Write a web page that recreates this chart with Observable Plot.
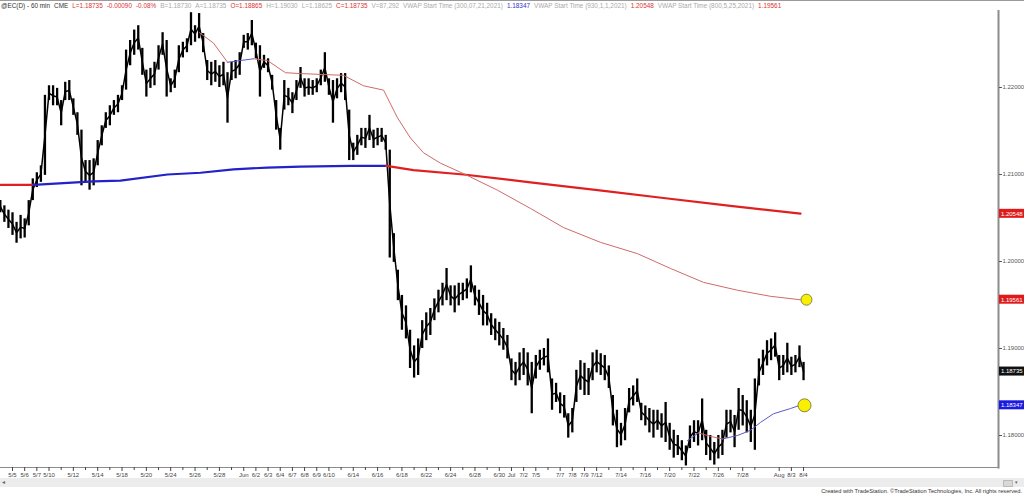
<!DOCTYPE html>
<html><head><meta charset="utf-8">
<script src="https://cdn.jsdelivr.net/npm/d3@7"></script>
<script src="https://cdn.jsdelivr.net/npm/@observablehq/plot@0.6"></script>
<style>
body{margin:0;background:#fff;font-family:"Liberation Sans",Arial,sans-serif;}
#wrap{position:relative;width:1024px;height:495px;overflow:hidden;background:#fff;}
#hdr{position:absolute;left:0;top:0;width:1024px;height:9px;border-top:1px solid #9a9a9a;font-size:6.4px;line-height:9px;white-space:nowrap;padding-left:1px;}
#hdr span{margin-right:4px}
#chart{position:absolute;left:0;top:10px;}
#band{position:absolute;left:0;top:478px;width:1024px;height:9px;background:#ececec;}
#band .l{position:absolute;left:2px;top:0;font-size:6px;line-height:9px;color:#666;}
#band .btn{position:absolute;left:1003px;top:2px;width:8px;height:5px;background:#d8d8d8;border:1px solid #bbb;}
#band .r{position:absolute;left:1015px;top:0;font-size:5px;line-height:9px;color:#666;}
#foot{position:absolute;right:2px;top:487px;font-size:5.7px;line-height:8px;color:#333;white-space:nowrap;}
</style></head><body>
<div id="wrap">
  <div id="hdr"></div>
  <div id="chart"></div>
  <div id="band"><span class="l">&#9666;</span><span class="btn"></span><span class="r">&#9662;</span></div>
  <div id="foot">Created with TradeStation. &copy;TradeStation Technologies, Inc. All rights reserved.</div>
</div>
<script>
// ---------- DATA ----------
// 8-hour bars, positions in trading days after the 5/5 session start
const barStartDay = -1;
const barStepDay = 1 / 3;
const barHigh = [
1.2070,1.2064,1.2059,1.2056,1.2045,1.2053,1.2049,1.2070,1.2095,1.2102,
1.2110,1.2191,1.2202,1.2202,1.2199,1.2185,1.2206,1.2208,1.2187,1.2171,
1.2151,1.2116,1.2116,1.2118,1.2139,1.2156,1.2171,1.2179,1.2185,1.2191,
1.2202,1.2243,1.2254,1.2266,1.2271,1.2245,1.2220,1.2222,1.2229,1.2248,
1.2263,1.2254,1.2210,1.2220,1.2248,1.2252,1.2256,1.2286,1.2271,1.2285,
1.2262,1.2231,1.2229,1.2231,1.2225,1.2229,1.2217,1.2229,1.2231,1.2240,
1.2260,1.2262,1.2277,1.2251,1.2248,1.2237,
1.2233,1.2214,1.2185,
1.2153,1.2208,1.2199,1.2194,1.2208,1.2223,1.2210,1.2210,1.2208,1.2210,
1.2220,1.2240,1.2210,1.2208,1.2210,1.2216,1.2216,1.2174,1.2136,1.2145,
1.2153,1.2153,1.2168,1.2151,1.2153,1.2153,1.2145,1.2128,1.2032,1.1990,
1.1961,1.1949,1.1921,1.1903,1.1911,1.1932,1.1941,1.1946,1.1957,1.1967,
1.1975,1.1992,1.1972,1.1972,1.1975,1.1975,1.1980,1.1995,1.1972,1.1967,
1.1961,1.1952,1.1940,1.1934,1.1930,1.1923,1.1915,1.1888,1.1884,1.1895,
1.1900,1.1895,1.1884,1.1892,1.1898,
1.1900,1.1911,1.1865,1.1860,
1.1849,1.1846,1.1825,1.1831,1.1875,1.1886,1.1883,1.1877,1.1895,1.1898,
1.1894,1.1892,1.1880,1.1846,1.1829,1.1814,1.1831,1.1854,1.1857,1.1865,
1.1837,1.1834,1.1831,1.1829,1.1829,1.1825,1.1838,1.1814,1.1806,1.1800,
1.1794,1.1788,1.1811,1.1817,1.1817,1.1842,1.1806,1.1800,1.1792,1.1800,
1.1806,1.1829,1.1829,1.1823,1.1854,1.1846,1.1840,1.1829,1.1865,1.1888,
1.1898,1.1909,1.1911,1.1918,1.1892,1.1892,1.1906,1.1890,1.1892,1.1903,
1.1884];
const barLow = [
1.2056,1.2045,1.2038,1.2030,1.2021,1.2026,1.2027,1.2041,1.2070,1.2085,
1.2091,1.2099,1.2185,1.2179,1.2179,1.2156,1.2185,1.2185,1.2168,1.2145,
1.2087,1.2091,1.2082,1.2087,1.2110,1.2133,1.2153,1.2156,1.2168,1.2171,
1.2185,1.2197,1.2225,1.2237,1.2243,1.2214,1.2189,1.2199,1.2202,1.2220,
1.2237,1.2189,1.2194,1.2199,1.2217,1.2234,1.2240,1.2248,1.2252,1.2256,
1.2240,1.2208,1.2202,1.2206,1.2200,1.2202,1.2159,1.2208,1.2210,1.2214,
1.2245,1.2243,1.2248,1.2233,1.2189,1.2222,
1.2217,1.2197,1.2151,
1.2128,1.2174,1.2179,1.2170,1.2185,1.2199,1.2189,1.2191,1.2191,1.2194,
1.2202,1.2206,1.2191,1.2159,1.2187,1.2194,1.2185,1.2116,1.2116,1.2122,
1.2133,1.2130,1.2139,1.2130,1.2133,1.2137,1.2128,1.2004,1.1999,1.1955,
1.1921,1.1911,1.1877,1.1866,1.1869,1.1900,1.1909,1.1915,1.1932,1.1941,
1.1949,1.1955,1.1949,1.1941,1.1949,1.1955,1.1957,1.1964,1.1949,1.1938,
1.1926,1.1926,1.1915,1.1909,1.1903,1.1898,1.1888,1.1863,1.1857,1.1863,
1.1869,1.1857,1.1825,1.1865,1.1875,
1.1880,1.1872,1.1829,1.1838,
1.1825,1.1820,1.1797,1.1803,1.1838,1.1852,1.1846,1.1846,1.1863,1.1872,
1.1869,1.1863,1.1854,1.1811,1.1786,1.1788,1.1794,1.1826,1.1834,1.1838,
1.1817,1.1811,1.1803,1.1797,1.1806,1.1797,1.1792,1.1783,1.1774,1.1777,
1.1771,1.1765,1.1785,1.1792,1.1788,1.1794,1.1777,1.1771,1.1766,1.1773,
1.1777,1.1797,1.1803,1.1786,1.1806,1.1811,1.1803,1.1792,1.1783,1.1857,
1.1869,1.1880,1.1886,1.1890,1.1863,1.1869,1.1872,1.1869,1.1872,1.1878,
1.1863];

// VWAP since 1/1/2021 (thick)
const vwapYearDay   = [-0.99,1.73,6.66,8.87,12.74,15.45,18.16,20.95,23.66,27.77,30.73,32.95,37.06,42.56,48.07,53.49,59.0,64.75];
const vwapYearPrice = [1.2088,1.2088,1.2092,1.2093,1.2100,1.2102,1.2106,1.2108,1.2109,1.2110,1.2110,1.2105,1.2100,1.2091,1.2082,1.2073,1.2064,1.2055];
// VWAP since 5/25/2021 (thin)
const vwapMayDay   = [15.37,16.52,17.67,18.73,19.80,20.95,22.43,23.66,27.20,28.84,30.49,31.64,32.70,33.77,35.17,37.06,39.85,42.56,45.28,48.32,51.36,54.07,56.78,59.57,62.28,64.75];
const vwapMayPrice = [1.2263,1.2251,1.2229,1.2231,1.2233,1.2231,1.2217,1.2216,1.2214,1.2202,1.2197,1.2165,1.2142,1.2125,1.2113,1.2101,1.2082,1.2061,1.2039,1.2022,1.2009,1.1992,1.1976,1.1967,1.1960,1.1956];
// VWAP since 7/21/2021 (thin)
const vwapJulDay   = [55.46,56.37,57.35,58.34,59.57,60.64,61.46,62.53,63.93,64.75];
const vwapJulPrice = [1.1794,1.1803,1.1799,1.1796,1.1800,1.1806,1.1815,1.1825,1.1831,1.1835];

// axis
const priceTicks = [1.18,1.19,1.20,1.21,1.22];
const tickDays = [0,1,2,3,5,7,9,11,13,15,17,19,20,21,22,23,24,25,26,28,30,32,34,36,38,40,41,42,43,45,46,47,48,50,52,54,56,58,60,63,64,65];
const tickLabels = ["5/5","5/6","5/7","5/10","5/12","5/14","5/18","5/20","5/24","5/26","5/28","Jun","6/2","6/3","6/4","6/7","6/8","6/9","6/10","6/14","6/16","6/18","6/22","6/24","6/28","6/30","Jul","7/2","7/5","7/7","7/8","7/9","7/12","7/14","7/16","7/20","7/22","7/26","7/28","Aug","8/3","8/4"];
const minorTickDays = [4,6,8,10,12,14,16,18,27,29,31,33,35,37,39,44,49,51,53,55,57,59,61];

// last values (price tags)
const tagNames  = ["VWAP 930,1,1,2021","VWAP 800,5,25,2021","Last","VWAP 300,07,21,2021"];
const tagValues = [1.20548,1.19561,1.18735,1.18347];
// highlighted targets (yellow circles)
const targetValues = [1.19561,1.18347];
const targetDays = [65.24,65.08];

// header
const headerItems = [
  ["@EC(D) - 60 min","#333"],["CME","#333"],["L=1.18735","#d33"],["-0.00090","#d33"],["-0.08%","#d33"],
  ["B=1.18730","#aaa"],["A=1.18735","#aaa"],["O=1.18865","#d33"],["H=1.19030","#aaa"],["L=1.18625","#aaa"],
  ["C=1.18735","#d33"],["V=87,292","#aaa"],["VWAP Start Time (300,07,21,2021)","#aaa"],["1.18347","#3333cc"],
  ["VWAP Start Time (930,1,1,2021)","#aaa"],["1.20548","#d33"],["VWAP Start Time (800,5,25,2021)","#aaa"],["1.19561","#d33"]
];

// ---------- BUILD ----------
const hdr = document.getElementById("hdr");
for (const [t, c] of headerItems) {
  const s = document.createElement("span");
  s.textContent = t; s.style.color = c; hdr.appendChild(s);
}

const bars = barHigh.map((h, i) => ({t: barStartDay + i * barStepDay, hi: h, lo: barLow[i], mid: (h + barLow[i]) / 2}));

function segs(days, prices, breaks, colors, name) {
  const out = [];
  let start = 0;
  const bounds = [...breaks, days.length - 1];
  for (let b = 0; b < bounds.length; b++) {
    for (let i = start; i <= bounds[b]; i++) out.push({t: days[i], p: prices[i], z: name + b, c: colors[b]});
    start = bounds[b];
  }
  return out;
}
const RED = "#e02020", BLUE = "#2222c8", THINRED = "#d06a6a", THINBLUE = "#5a5ac8";
const yearLine = segs(vwapYearDay, vwapYearPrice, [1, 10], [RED, BLUE, RED], "y");
const mayLine  = segs(vwapMayDay, vwapMayPrice, [2, 4], [THINRED, THINBLUE, THINRED], "m");
const julLine  = segs(vwapJulDay, vwapJulPrice, [1, 3], [THINBLUE, THINRED, THINBLUE], "j");

const xRight = 81.02, xTag = 83.2;
const tagColors = ["#e01a1a","#e01a1a","#111","#1a1ae0"];
const tags = tagValues.map((v, i) => ({name: tagNames[i], v, c: tagColors[i]}));
const labelOf = new Map(tickDays.map((d, i) => [d, tickLabels[i]]));

const pxPerPrice = 8700;
const chart = Plot.plot({
  width: 1024, height: 468,
  marginTop: 0, marginBottom: 11, marginLeft: 0, marginRight: 26,
  x: {domain: [-0.986, xRight], axis: null, label: null},
  y: {domain: [1.176322, 1.228851], axis: null, label: null},
  style: {background: "transparent", fontFamily: "Liberation Sans, Arial, sans-serif"},
  marks: [
    Plot.ruleX(bars, {x: "t", y1: "lo", y2: "hi", stroke: "#000", strokeWidth: 2.3}),
    Plot.line(bars, {x: "t", y: "mid", stroke: "#000", strokeWidth: 1.5}),
    Plot.line(yearLine, {x: "t", y: "p", z: "z", stroke: "c", strokeWidth: 2.2}),
    Plot.line(mayLine, {x: "t", y: "p", z: "z", stroke: "c", strokeWidth: 1}),
    Plot.line(julLine, {x: "t", y: "p", z: "z", stroke: "c", strokeWidth: 1}),
    Plot.dot([{t: targetDays[0], v: targetValues[0]}], {x: "t", y: "v", r: 5.5, fill: "#f8f000", stroke: "#6b6b3a", strokeWidth: 0.8}),
    Plot.dot([{t: targetDays[1], v: targetValues[1]}], {x: "t", y: "v", r: 6.5, fill: "#f8f000", stroke: "#6b6b3a", strokeWidth: 0.8}),
    Plot.frame({anchor: "bottom", stroke: "#8c8c8c", strokeWidth: 1.2}),
    Plot.frame({anchor: "right", stroke: "#8c8c8c", strokeWidth: 2}),
    Plot.axisX({ticks: tickDays, tickFormat: d => labelOf.get(d), tickSize: 4, tickPadding: 1, fontSize: 6, color: "#444", anchor: "bottom", label: null}),
    Plot.axisX({ticks: minorTickDays, tickFormat: () => "", tickSize: 3, color: "#444", anchor: "bottom", label: null}),
    Plot.axisY({anchor: "right", ticks: priceTicks, tickFormat: d3.format(".5f"), tickSize: 3, tickPadding: 1, fontSize: 6, color: "#555", label: null}),
    Plot.rect(tags, {x1: xRight + 0.08, x2: xTag, y1: d => d.v - 4.5 / pxPerPrice, y2: d => d.v + 4.5 / pxPerPrice, fill: "c"}),
    Plot.text(tags, {x: xRight + 0.2, y: "v", text: d => d3.format(".5f")(d.v), fill: "#fff", textAnchor: "start", fontSize: 6})
  ]
});
document.getElementById("chart").appendChild(chart);
</script>
</body></html>
